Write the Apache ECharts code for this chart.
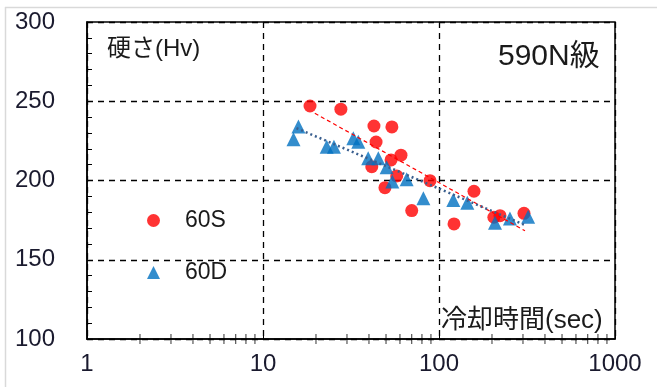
<!DOCTYPE html>
<html><head><meta charset="utf-8">
<script src="https://cdn.jsdelivr.net/npm/echarts@6/dist/echarts.min.js"></script>
<style>html,body{margin:0;padding:0;background:#fff}#c{width:657px;height:387px}</style>
</head><body><div id="c"></div>
<script>
const s60S = [[18.5,247],[27.7,245],[42.7,234.4],[54,233.8],[43.9,224.3],[60.8,216],[53.4,213],[41.5,208.7],[57.5,202.9],[49.3,195.5],[70,181],[88.9,199.9],[158,193.2],[121.7,172.6],[205,176.8],[222,177.8],[304,179.3]];
const s60D = [[15.9,234],[14.9,226],[23,221.3],[25.3,221.3],[32.6,226.6],[34.8,224.5],[39.6,214],[45.2,214],[50.4,208.3],[54.3,199.3],[65.5,200.8],[81.5,188.8],[120.6,187.7],[144.8,186],[208,173.4],[253,176.1],[321,177.2]];
const trend60S = [[19.7,242.4],[308,168.3]];
const trend60D = [[15.5,233],[308,171.9]];
const xMinor = [2,3,4,5,6,7,8,9,20,30,40,50,60,70,80,90,200,300,400,500,600,700,800,900];
const yTicks = [100,150,200,250,300];

const FONT = "'Liberation Sans','Noto Sans CJK JP',sans-serif";
const chart = echarts.init(document.getElementById('c'), null, {renderer:'canvas'});
chart.setOption({
  animation:false,
  backgroundColor:'#fff',
  grid:{left:87, top:22, width:528, height:317, show:true, borderColor:'#000', borderWidth:1.5, backgroundColor:'transparent'},
  xAxis:{type:'log', logBase:10, min:1, max:1000,
    axisLine:{show:true, lineStyle:{color:'#000', width:1.5}},
    axisTick:{show:true, inside:true, length:5, lineStyle:{color:'#000', width:1}},
    minorTick:{show:false},
    axisLabel:{fontSize:24, color:'#1a1a2e', fontFamily:FONT, margin:13, formatter:v=>String(Math.round(v))},
    splitLine:{show:true, lineStyle:{color:'#000', width:1.3, type:[6,5]}}
  },
  yAxis:{type:'value', min:yTicks[0], max:yTicks[yTicks.length-1], interval:50,
    axisLine:{show:true, lineStyle:{color:'#000', width:1.5}},
    axisTick:{show:true, inside:true, length:5, lineStyle:{color:'#000', width:1}},
    minorTick:{show:true, splitNumber:5, length:5, lineStyle:{color:'#000', width:1}},
    axisLabel:{fontSize:24, color:'#1a1a2e', fontFamily:FONT, margin:32},
    splitLine:{show:true, lineStyle:{color:'#000', width:1.3, type:[6,5]}}
  },
  legend:{orient:'vertical', left:142, top:204, itemGap:29, itemWidth:13, itemHeight:13,
    textStyle:{fontSize:23, color:'#1a1a1a', fontFamily:FONT, padding:[0,0,0,20]},
    data:[{name:'60S', icon:'circle'},{name:'60D', icon:'triangle'}]},
  graphic:[
    {type:'line', shape:{x1:5,y1:7.5,x2:657,y2:7.5}, style:{stroke:'#d9d9d9', lineWidth:1.5}, silent:true},
    {type:'line', shape:{x1:5.5,y1:7,x2:5.5,y2:387}, style:{stroke:'#d9d9d9', lineWidth:1.5}, silent:true},
    {type:'text', left:107, top:37, style:{text:'硬さ(Hv)', font:"24px "+FONT, fill:'#1a1a1a'}},
    {type:'text', left:498, top:42, style:{text:'590N級', font:"30px "+FONT, fill:'#1a1a1a'}},
    {type:'text', left:441, top:308, style:{text:'冷却時間(sec)', font:"26px "+FONT, fill:'#1a1a1a'}}
  ],
  series:[
    {name:'xminor', type:'scatter', data:xMinor.map(v=>[v,yTicks[0]]), symbol:'rect', symbolSize:[1,10], silent:true,
      itemStyle:{color:'#000'}, z:1, legendHoverLink:false},
    {name:'60S', type:'scatter', data:s60S, symbol:'circle', symbolSize:13, itemStyle:{color:'#ff0000'}, z:3},
    {name:'60D', type:'scatter', data:s60D, symbol:'triangle', symbolSize:14, itemStyle:{color:'#0070c0'}, z:4},
    {name:'t60S', type:'line', data:trend60S, showSymbol:false, symbol:'none', lineStyle:{color:'#ff0000', width:1.2, type:[4,3]}, z:5},
    {name:'t60D', type:'line', data:trend60D, showSymbol:false, symbol:'none', lineStyle:{color:'#3a5f8f', width:2.5, type:[2,3]}, z:5}
  ]
});
</script></body></html>
